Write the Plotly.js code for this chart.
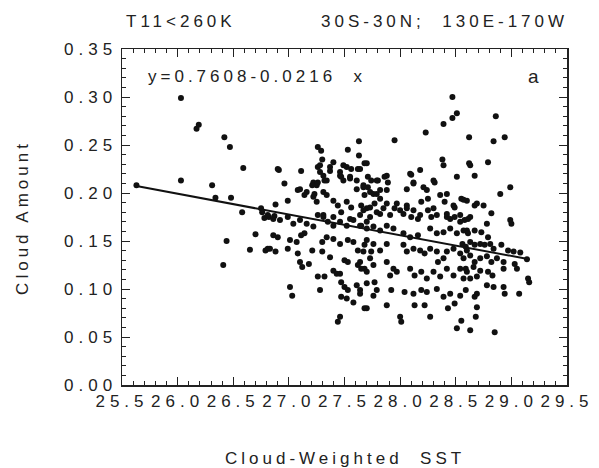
<!DOCTYPE html>
<html>
<head>
<meta charset="utf-8">
<script src="https://cdn.plot.ly/plotly-3.0.1.min.js"></script>
<style>
  html, body { margin: 0; padding: 0; background: #fff; }
  #plot { width: 599px; height: 468px; }
  text { letter-spacing: 4px; }
  #plot .xtick text, #plot .ytick text { letter-spacing: 5px; }
</style>
</head>
<body>
<div id="plot"></div>
<script>
// Cloud-weighted SST (x) and cloud amount (y)
const sstX = [
  26.03,26.19,26.17,26.42,26.47,26.59,26.03,25.63,26.31,26.91,26.96,26.34,26.48,26.58,26.75,26.88,26.99,26.82,26.87,26.78,
  26.81,26.70,26.44,26.65,26.79,26.81,26.41,
  28.47,28.51,28.47,28.39,28.23,28.62,27.95,27.63,27.26,27.29,27.53,27.63,28.38,28.39,28.62,27.30,27.40,27.49,27.56,27.52,
  27.68,27.62,27.11,27.26,27.28,27.37,28.18,28.10,28.51,28.67,27.46,27.55,27.49,27.71,27.74,27.88,27.89,27.80,27.22,27.25,
  27.32,27.10,27.16,28.06,28.12,28.21,28.24,28.31,27.61,27.67,27.73,27.79,27.82,27.31,27.34,27.22,27.25,27.40,27.44,27.52,
  27.56,27.65,27.70,27.77,27.88,27.95,28.06,28.12,28.19,28.25,28.30,28.36,28.42,28.40,28.48,28.55,28.60,28.67,27.31,27.40,
  27.47,27.55,27.64,27.73,27.82,27.91,28.03,28.10,28.18,28.33,28.42,28.54,28.63,
  28.86,28.84,28.94,28.79,28.30,28.99,28.90,28.57,28.69,28.75,28.49,28.82,28.99,28.58,
  28.63,29.00,28.61,28.78,28.60,28.67,28.73,28.79,28.56,28.59,28.63,28.67,28.72,28.76,28.81,28.84,28.91,28.97,29.02,29.08,
  29.14,28.57,28.63,28.67,28.72,28.78,28.82,28.87,28.93,29.03,29.05,28.59,28.66,28.72,28.79,28.83,28.93,29.15,29.16,28.63,
  28.69,28.78,28.84,28.93,28.69,28.67,28.69,28.68,29.07,28.55,28.63,28.85,28.59,28.57,28.94,
  27.70,28.09,28.12,27.79,27.86,27.88,27.68,27.76,27.82,27.97,28.00,28.06,27.67,27.73,27.79,27.85,28.16,28.25,28.28,28.42,
  28.45,28.49,28.54,27.65,27.70,27.76,27.82,27.88,27.94,28.03,28.09,28.16,28.27,28.33,28.39,28.45,28.51,28.57,28.61,27.68,
  27.76,27.74,27.82,27.88,28.03,28.06,28.12,28.18,28.22,28.27,28.33,28.39,28.34,28.42,28.48,28.54,28.60,27.64,27.68,27.76,
  27.73,27.88,27.94,27.91,27.97,28.09,28.13,28.19,28.24,28.30,28.36,28.42,28.48,28.54,28.60,27.70,27.77,27.79,27.76,27.92,
  28.04,28.12,28.19,28.24,28.33,28.39,28.45,28.54,27.68,27.88,28.13,28.22,28.43,28.49,28.00,28.01,28.27,28.51,
  26.90,27.08,27.14,27.21,27.23,27.28,27.31,27.26,27.34,27.37,27.46,27.47,27.55,27.61,27.64,27.67,27.71,26.76,26.86,26.92,
  26.99,27.04,27.10,27.16,27.22,27.26,27.31,27.35,27.40,27.46,27.52,27.58,27.64,27.70,26.86,26.90,27.01,27.07,27.14,27.11,
  27.30,27.34,27.40,27.46,27.53,27.58,27.62,27.67,27.70,26.83,26.88,26.99,27.08,27.21,27.30,27.37,27.10,27.12,27.18,27.40,
  27.43,27.50,27.53,27.62,27.65,27.70,27.26,27.32,27.46,27.47,27.01,27.03,27.28,27.50,27.53,27.61,27.64,27.64,27.47,27.52,
  27.58,27.70,27.46,27.44
];
const cloudY = [
  0.299,0.271,0.267,0.258,0.248,0.226,0.213,0.208,0.208,0.224,0.210,0.195,0.195,0.180,0.184,0.188,0.192,0.175,0.176,0.174,
  0.177,0.157,0.150,0.141,0.140,0.142,0.125,
  0.300,0.283,0.278,0.272,0.263,0.258,0.255,0.254,0.248,0.244,0.245,0.239,0.235,0.229,0.231,0.235,0.232,0.229,0.225,0.227,
  0.231,0.225,0.223,0.227,0.222,0.223,0.224,0.219,0.217,0.218,0.218,0.215,0.213,0.217,0.213,0.218,0.211,0.213,0.211,0.208,
  0.213,0.204,0.201,0.204,0.210,0.206,0.203,0.211,0.204,0.206,0.201,0.199,0.203,0.201,0.198,0.196,0.191,0.192,0.187,0.191,
  0.185,0.187,0.184,0.189,0.189,0.184,0.187,0.182,0.191,0.194,0.184,0.198,0.199,0.191,0.187,0.194,0.192,0.187,0.177,0.175,
  0.180,0.173,0.177,0.175,0.178,0.177,0.178,0.175,0.177,0.177,0.175,0.177,0.175,
  0.280,0.254,0.258,0.232,0.213,0.206,0.199,0.193,0.189,0.187,0.185,0.179,0.172,0.172,
  0.229,0.168,0.173,0.168,0.161,0.161,0.159,0.154,0.147,0.144,0.149,0.146,0.147,0.146,0.147,0.142,0.146,0.140,0.139,0.138,
  0.131,0.132,0.135,0.128,0.132,0.134,0.128,0.132,0.128,0.126,0.121,0.121,0.123,0.119,0.118,0.114,0.121,0.111,0.107,0.111,
  0.113,0.104,0.102,0.102,0.095,0.092,0.081,0.071,0.095,0.067,0.057,0.055,0.099,0.111,0.095,
  0.231,0.220,0.211,0.213,0.217,0.203,0.198,0.199,0.194,0.189,0.182,0.184,0.182,0.185,0.180,0.184,0.173,0.182,0.175,0.178,
  0.173,0.175,0.170,0.166,0.170,0.165,0.161,0.166,0.163,0.158,0.154,0.156,0.163,0.158,0.159,0.163,0.158,0.161,0.158,0.146,
  0.147,0.139,0.140,0.147,0.146,0.139,0.142,0.140,0.137,0.142,0.139,0.132,0.128,0.139,0.142,0.137,0.140,0.128,0.121,0.125,
  0.132,0.128,0.121,0.114,0.118,0.121,0.114,0.118,0.111,0.118,0.113,0.121,0.114,0.121,0.118,0.106,0.107,0.099,0.093,0.099,
  0.097,0.095,0.099,0.097,0.100,0.092,0.095,0.093,0.080,0.083,0.083,0.083,0.080,0.085,0.071,0.066,0.071,0.059,
  0.225,0.203,0.198,0.208,0.199,0.229,0.218,0.211,0.213,0.227,0.222,0.217,0.217,0.213,0.225,0.208,0.206,0.180,0.173,0.172,
  0.175,0.168,0.172,0.168,0.165,0.177,0.175,0.170,0.166,0.170,0.166,0.172,0.166,0.163,0.156,0.154,0.151,0.149,0.158,0.156,
  0.149,0.154,0.152,0.147,0.151,0.149,0.140,0.139,0.151,0.142,0.139,0.142,0.137,0.140,0.139,0.133,0.128,0.123,0.126,0.119,
  0.116,0.130,0.128,0.125,0.121,0.118,0.113,0.113,0.116,0.107,0.102,0.093,0.099,0.102,0.099,0.104,0.099,0.095,0.092,0.090,
  0.086,0.080,0.071,0.066
];
// Regression line shown in the chart: y = 0.7608 - 0.0216 x
const fitIntercept = 0.7608;
const fitSlope = -0.0216;
const fitX = [25.63, 29.16];
const fitY = fitX.map(v => fitIntercept + fitSlope * v);

// Axis ticks
const xRange = [25.5, 29.5], yRange = [0, 0.35];
const xTick0 = 25.5, xTickStep = 0.5, xMinorStep = 0.1;
const yTick0 = 0, yTickStep = 0.05, yMinorStep = 0.01;

const FONT = '"Liberation Sans", Arial, Helvetica, sans-serif';
const INK = '#222222';

const traces = [
  {
    x: sstX, y: cloudY, type: 'scatter', mode: 'markers',
    marker: { color: '#111111', size: 6 },
    hoverinfo: 'skip', showlegend: false
  },
  {
    // fit line lives on the overlay axes that carry the minor ticks
    x: fitX, y: fitY, type: 'scatter', mode: 'lines', xaxis: 'x2', yaxis: 'y2',
    line: { color: '#111111', width: 2 },
    hoverinfo: 'skip', showlegend: false
  }
];

const baseAxis = {
  showgrid: false, zeroline: false,
  showline: true, linecolor: INK, linewidth: 1.5, mirror: 'ticks',
  ticks: 'inside', tickwidth: 1, tickcolor: INK,
  tickfont: { family: FONT, size: 17, color: INK }
};

const layout = {
  width: 599, height: 468,
  margin: { l: 122, r: 32, t: 49, b: 83 },
  paper_bgcolor: '#ffffff', plot_bgcolor: '#ffffff',
  font: { family: FONT, size: 17, color: INK },
  showlegend: false,
  xaxis: Object.assign({}, baseAxis, {
    range: xRange, tickmode: 'linear', tick0: xTick0, dtick: xTickStep, tickformat: '.1f', ticklen: 8
  }),
  yaxis: Object.assign({}, baseAxis, {
    range: yRange, tickmode: 'linear', tick0: yTick0, dtick: yTickStep, tickformat: '.2f', ticklen: 8
  }),
  xaxis2: Object.assign({}, baseAxis, {
    overlaying: 'x', side: 'bottom', anchor: 'y2',
    range: xRange, tickmode: 'linear', tick0: xTick0, dtick: xMinorStep, ticklen: 4, showticklabels: false
  }),
  yaxis2: Object.assign({}, baseAxis, {
    overlaying: 'y', side: 'left', anchor: 'x2',
    range: yRange, tickmode: 'linear', tick0: yTick0, dtick: yMinorStep, ticklen: 4, showticklabels: false
  }),
  annotations: [
    { text: 'T11<260K', xref: 'x', yref: 'paper', x: 26.03, y: 1.083, showarrow: false,
      xanchor: 'center', yanchor: 'middle', font: { family: FONT, size: 17, color: INK } },
    { text: '30S-30N;  130E-170W', xref: 'x', yref: 'paper', x: 28.40, y: 1.083, showarrow: false,
      xanchor: 'center', yanchor: 'middle', font: { family: FONT, size: 17, color: INK } },
    { text: 'y=0.7608-0.0216  x', xref: 'x', yref: 'y', x: 25.72, y: 0.321, showarrow: false,
      xanchor: 'left', yanchor: 'middle', font: { family: FONT, size: 17, color: INK } },
    { text: 'a', xref: 'x', yref: 'y', x: 29.22, y: 0.321, showarrow: false,
      xanchor: 'center', yanchor: 'middle', font: { family: FONT, size: 19, color: INK } },
    { text: 'Cloud Amount', xref: 'paper', yref: 'paper', x: -0.225, y: 0.5, textangle: -90,
      showarrow: false, xanchor: 'center', yanchor: 'middle', font: { family: FONT, size: 17, color: INK } },
    { text: 'Cloud-Weighted  SST', xref: 'paper', yref: 'paper', x: 0.5, y: -0.22,
      showarrow: false, xanchor: 'center', yanchor: 'middle', font: { family: FONT, size: 17, color: INK } }
  ]
};

Plotly.newPlot('plot', traces, layout, { displayModeBar: false, staticPlot: true });
</script>
</body>
</html>
